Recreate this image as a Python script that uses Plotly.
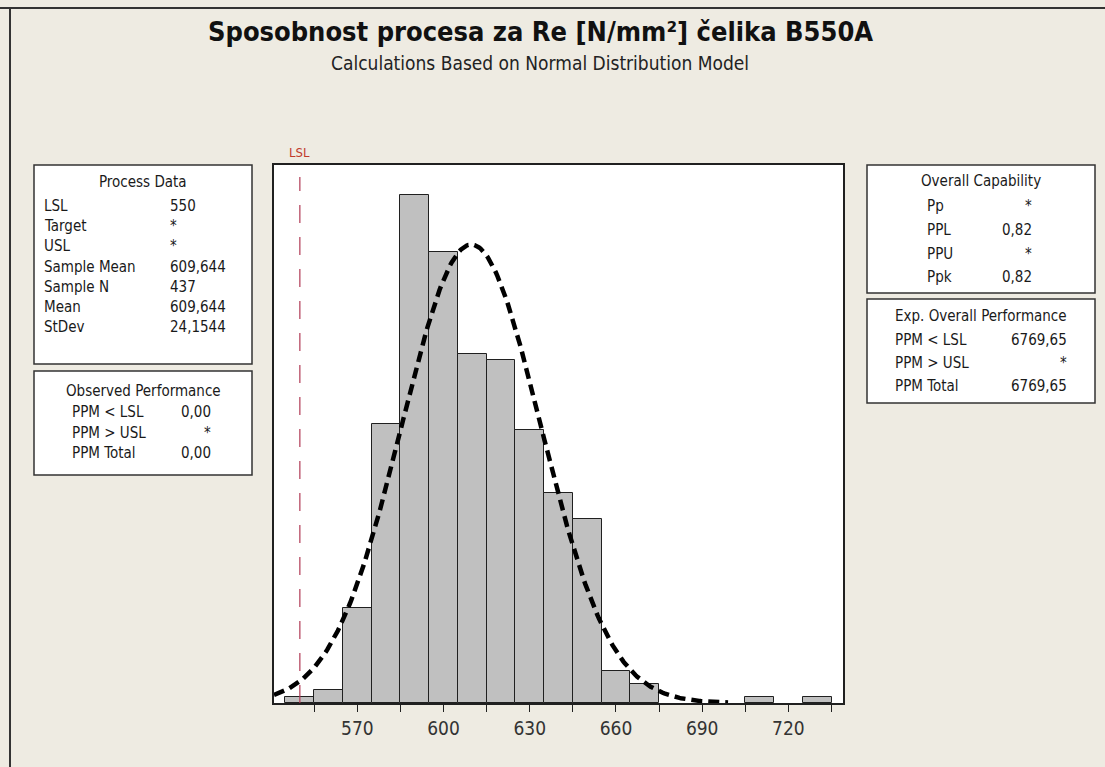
import numpy as np
import plotly.graph_objects as go

# ---- data ----
bin_centers = [550, 560, 570, 580, 590, 600, 610, 620, 630, 640, 650, 660, 670, 710, 730]
bin_counts = [1, 2, 15, 44, 80, 71, 55, 54, 43, 33, 29, 5, 3, 1, 1]
bin_width = 10
lsl = 550
sample_mean = 609.644
stdev = 24.1544
sample_n = 437

process_labels = ["LSL", "Target", "USL", "Sample Mean", "Sample N", "Mean", "StDev"]
process_values = ["550", "*", "*", "609,644", "437", "609,644", "24,1544"]
observed_labels = ["PPM < LSL", "PPM > USL", "PPM Total"]
observed_values = ["0,00", "*", "0,00"]
capability_labels = ["Pp", "PPL", "PPU", "Ppk"]
capability_values = ["*", "0,82", "*", "0,82"]
expected_labels = ["PPM < LSL", "PPM > USL", "PPM Total"]
expected_values = ["6769,65", "*", "6769,65"]

x_range = [541, 739]
y_max = 84.7

W, H = 1105, 767
L, R, T, B = 274, 843, 165, 703


def px(xp):
    return (xp - L) / (R - L)


def py(yp):
    return (B - yp) / (B - T)


FONT = "DejaVu Sans Condensed, DejaVu Sans"
TXT = "#1A1A1A"
BG = "#EEEBE2"

fig = go.Figure()
fig.add_trace(go.Bar(
    x=bin_centers, y=bin_counts, width=bin_width,
    marker=dict(color="#C0C0C0", line=dict(color="#202020", width=1)),
    hoverinfo="x+y", showlegend=False,
))

# fitted normal curve from stated mean and stdev
cx = np.linspace(x_range[0], 699, 300)
cy = sample_n * bin_width / (stdev * np.sqrt(2 * np.pi)) * np.exp(-0.5 * ((cx - sample_mean) / stdev) ** 2)
fig.add_trace(go.Scatter(
    x=cx, y=cy, mode="lines",
    line=dict(color="black", width=4.5, dash="11px,6px"),
    showlegend=False, hoverinfo="skip",
))

shapes = []
annotations = []

# LSL line
shapes.append(dict(type="line", xref="x", yref="paper", x0=lsl, x1=lsl, y0=0, y1=py(177),
                   line=dict(color="#B03A55", width=1.2, dash="18px,14px")))
annotations.append(dict(xref="x", yref="paper", x=lsl, y=py(152), text="LSL", showarrow=False,
                        font=dict(family=FONT, size=13, color="#C0392B"), xanchor="center", yanchor="middle"))

# title
annotations.append(dict(xref="paper", yref="paper", x=px(540), y=py(32),
                        text="<b>Sposobnost procesa za Re [N/mm²] čelika B550A</b>", showarrow=False,
                        font=dict(family=FONT, size=27, color="#111111"), xanchor="center", yanchor="middle"))
annotations.append(dict(xref="paper", yref="paper", x=px(540), y=py(63),
                        text="Calculations Based on Normal Distribution Model", showarrow=False,
                        font=dict(family=FONT, size=19, color="#222222"), xanchor="center", yanchor="middle"))


def box(x0, x1, y0, y1):
    shapes.append(dict(type="rect", xref="paper", yref="paper", x0=px(x0), x1=px(x1), y0=py(y1), y1=py(y0),
                       line=dict(color="#333333", width=1.5), fillcolor="#FFFFFF", layer="below"))


def txt(x, y, s, anchor="left", size=15):
    annotations.append(dict(xref="paper", yref="paper", x=px(x), y=py(y), text=s, showarrow=False,
                            font=dict(family=FONT, size=size, color=TXT), xanchor=anchor, yanchor="middle"))


# left boxes
box(34, 252, 165, 364)
txt(143, 182, "Process Data", "center")
for i, (lab, val) in enumerate(zip(process_labels, process_values)):
    y = 206 + i * 20.2
    txt(42, y, lab)
    txt(168, y, val)

box(34, 252, 371, 475)
txt(143, 391, "Observed Performance", "center")
for i, (lab, val) in enumerate(zip(observed_labels, observed_values)):
    y = 412 + i * 20.5
    txt(70, y, lab)
    txt(213, y, val, "right")

# right boxes
box(867, 1095, 165, 293)
txt(981, 181, "Overall Capability", "center")
for i, (lab, val) in enumerate(zip(capability_labels, capability_values)):
    y = 206 + i * 23.8
    txt(925, y, lab)
    txt(1034, y, val, "right")

box(867, 1095, 299, 403)
txt(981, 316, "Exp. Overall Performance", "center")
for i, (lab, val) in enumerate(zip(expected_labels, expected_values)):
    y = 340 + i * 23
    txt(893, y, lab)
    txt(1069, y, val, "right")

# page frame lines
shapes.append(dict(type="line", xref="paper", yref="paper", x0=px(0), x1=px(W), y0=py(8), y1=py(8),
                   line=dict(color="#333333", width=2)))
shapes.append(dict(type="line", xref="paper", yref="paper", x0=px(10), x1=px(10), y0=py(8), y1=py(H),
                   line=dict(color="#333333", width=2)))

fig.update_layout(
    width=W, height=H,
    margin=dict(l=L, r=W - R, t=T, b=H - B, pad=0),
    paper_bgcolor=BG, plot_bgcolor="#FFFFFF",
    bargap=0, showlegend=False,
    shapes=shapes, annotations=annotations,
    font=dict(family=FONT, color=TXT),
)
fig.update_xaxes(range=x_range, tick0=570, dtick=30, ticks="outside", ticklen=7, tickwidth=1,
                 tickcolor="#202020", showline=True, linecolor="#202020", linewidth=1.5, mirror=True,
                 showgrid=False, zeroline=False,
                 tickfont=dict(family=FONT, size=19, color="#333333"),
                 minor=dict(tick0=555, dtick=15, ticks="outside", ticklen=7, tickcolor="#202020", showgrid=False))
fig.update_yaxes(range=[0, y_max], showticklabels=False, ticks="", showline=True, linecolor="#202020",
                 linewidth=1.5, mirror=True, showgrid=False, zeroline=False)

fig.write_html("out.html", config={"displayModeBar": False},
               post_script="document.body.style.margin='0';document.body.style.background='%s';" % BG)
